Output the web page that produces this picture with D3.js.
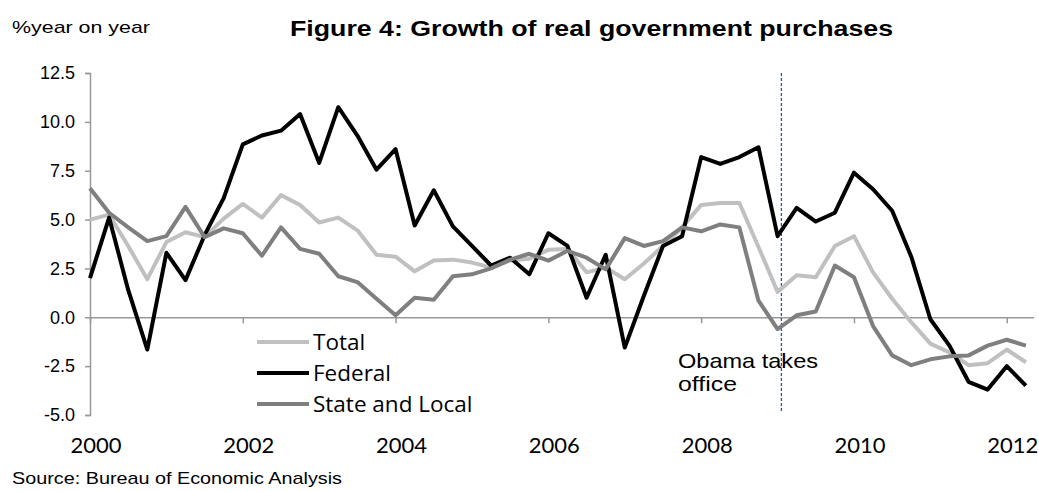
<!DOCTYPE html>
<html>
<head>
<meta charset="utf-8">
<script src="https://cdn.jsdelivr.net/npm/d3@7/dist/d3.min.js"></script>
<style>
  body { margin: 0; background: #fff; }
  svg { display: block; }
</style>
</head>
<body>
<svg id="chart" width="1039" height="491"></svg>
<script>
// quarterly, 2000Q1 .. 2012Q2, % year on year
var total = [5.0, 5.25, 3.65, 1.95, 3.85, 4.35, 4.1, 5.05, 5.8, 5.1, 6.25, 5.75,
    4.85, 5.1, 4.45, 3.2, 3.1, 2.35, 2.9, 2.95, 2.8, 2.55, 2.9, 3.0,
    3.45, 3.5, 2.3, 2.55, 1.95, 2.75, 3.65, 4.6, 5.75, 5.85, 5.85, 3.6,
    1.3, 2.15, 2.05, 3.65, 4.15, 2.3, 0.95, -0.25, -1.35, -1.8, -2.45, -2.35,
    -1.65, -2.3];
var federal = [2.0, 5.1, 1.4, -1.65, 3.3, 1.9, 4.2, 6.1, 8.85, 9.3, 9.55, 10.4,
    7.9, 10.75, 9.3, 7.55, 8.6, 4.7, 6.5, 4.65, 3.65, 2.65, 3.05, 2.2,
    4.3, 3.65, 1.0, 3.2, -1.55, 1.1, 3.65, 4.15, 8.2, 7.85, 8.2, 8.7,
    4.15, 5.6, 4.9, 5.35, 7.4, 6.55, 5.45, 3.1, -0.1, -1.45, -3.3, -3.7,
    -2.5, -3.5];
var stateLocal = [6.6, 5.35, 4.6, 3.9, 4.15, 5.65, 4.1, 4.55, 4.3, 3.15, 4.6, 3.5,
    3.25, 2.1, 1.8, 0.95, 0.1, 1.0, 0.9, 2.1, 2.2, 2.5, 2.95, 3.25,
    2.9, 3.4, 3.05, 2.45, 4.05, 3.65, 3.9, 4.6, 4.4, 4.75, 4.6, 0.85,
    -0.6, 0.1, 0.3, 2.65, 2.05, -0.45, -1.95, -2.45, -2.15, -2.0, -1.95, -1.45,
    -1.15, -1.45];

var seriesNames = ["Total", "Federal", "State and Local"];
var yTicks = [-5, -2.5, 0, 2.5, 5, 7.5, 10, 12.5];
var xTicks = [2000, 2002, 2004, 2006, 2008, 2010, 2012];
var obamaDate = 2009.05;

var colors = ["#c0c0c0", "#000000", "#7f7f7f"];

var svg = d3.select("#chart");

var x = d3.scaleLinear()
    .domain([2000, 2012.35])
    .range([90, 1033.5]);

var y = d3.scaleLinear()
    .domain([-5, 12.5])
    .range([415, 73]);

// y axis
var yAxis = svg.append("g")
    .attr("transform", "translate(90,0)")
    .call(d3.axisLeft(y)
        .tickValues(yTicks)
        .tickSize(5)
        .tickPadding(10)
        .tickFormat(function(d) { return d.toFixed(1); }));
yAxis.select(".domain").attr("stroke", "#999").attr("stroke-width", 1.5);
yAxis.selectAll(".tick line").attr("stroke", "#999").attr("stroke-width", 1.5);
yAxis.selectAll("text")
    .attr("fill", "#000")
    .style("font-family", "'Liberation Sans', Arial, sans-serif")
    .style("font-size", "18px");

// zero line with year ticks
var zeroAxis = svg.append("g")
    .attr("transform", "translate(0," + y(0) + ")")
    .call(d3.axisBottom(x)
        .tickValues(xTicks)
        .tickSize(6)
        .tickSizeOuter(0)
        .tickFormat(""));
zeroAxis.select(".domain").attr("stroke", "#999").attr("stroke-width", 1.5);
zeroAxis.selectAll(".tick line").attr("stroke", "#999").attr("stroke-width", 1.5);

// year labels below the plot
svg.append("g")
    .selectAll("text")
    .data(xTicks)
    .join("text")
    .attr("x", function(d) { return x(d) + 6; })
    .attr("y", 453)
    .attr("text-anchor", "middle")
    .style("font-family", "Lato, sans-serif")
    .style("font-size", "22px")
    .text(function(d) { return d; });

// Obama line
svg.append("line")
    .attr("x1", x(obamaDate))
    .attr("x2", x(obamaDate))
    .attr("y1", 73)
    .attr("y2", 412)
    .attr("stroke", "#2457a4")
    .attr("stroke-width", 1.3)
    .attr("stroke-dasharray", "3,2");

var line = d3.line()
    .x(function(d, i) { return x(2000 + i / 4); })
    .y(function(d) { return y(d); });

var allSeries = [total, federal, stateLocal];

svg.append("g")
    .selectAll("path")
    .data(allSeries)
    .join("path")
    .attr("d", line)
    .attr("fill", "none")
    .attr("stroke", function(d, i) { return colors[i]; })
    .attr("stroke-width", 4)
    .attr("stroke-linejoin", "round");

// legend
var legend = svg.append("g")
    .selectAll("g")
    .data(seriesNames)
    .join("g")
    .attr("transform", function(d, i) { return "translate(257," + (342 + i * 31) + ")"; });
legend.append("line")
    .attr("x1", 0).attr("x2", 52)
    .attr("stroke", function(d, i) { return colors[i]; })
    .attr("stroke-width", 4);
legend.append("text")
    .attr("x", 56)
    .attr("y", 8)
    .style("font-family", "'Open Sans', sans-serif")
    .style("font-size", "22.5px")
    .text(function(d) { return d; });

// annotation
var note = svg.append("text")
    .style("font-family", "'Liberation Sans', Arial, sans-serif")
    .style("font-size", "21px");
note.append("tspan").attr("x", 678).attr("y", 368)
    .attr("textLength", 140).attr("lengthAdjust", "spacingAndGlyphs").text("Obama takes");
note.append("tspan").attr("x", 678).attr("y", 391)
    .attr("textLength", 59).attr("lengthAdjust", "spacingAndGlyphs").text("office");

// titles
svg.append("text")
    .attr("x", 12).attr("y", 33)
    .style("font-family", "'Liberation Sans', Arial, sans-serif")
    .style("font-size", "17px")
    .attr("textLength", 138)
    .attr("lengthAdjust", "spacingAndGlyphs")
    .text("%year on year");

svg.append("text")
    .attr("x", 290).attr("y", 36)
    .style("font-family", "'Liberation Sans', Arial, sans-serif")
    .style("font-size", "22px")
    .style("font-weight", "bold")
    .attr("textLength", 603)
    .attr("lengthAdjust", "spacingAndGlyphs")
    .text("Figure 4: Growth of real government purchases");

svg.append("text")
    .attr("x", 12).attr("y", 484)
    .style("font-family", "'Liberation Sans', Arial, sans-serif")
    .style("font-size", "17px")
    .attr("textLength", 330)
    .attr("lengthAdjust", "spacingAndGlyphs")
    .text("Source: Bureau of Economic Analysis");
</script>
</body>
</html>
